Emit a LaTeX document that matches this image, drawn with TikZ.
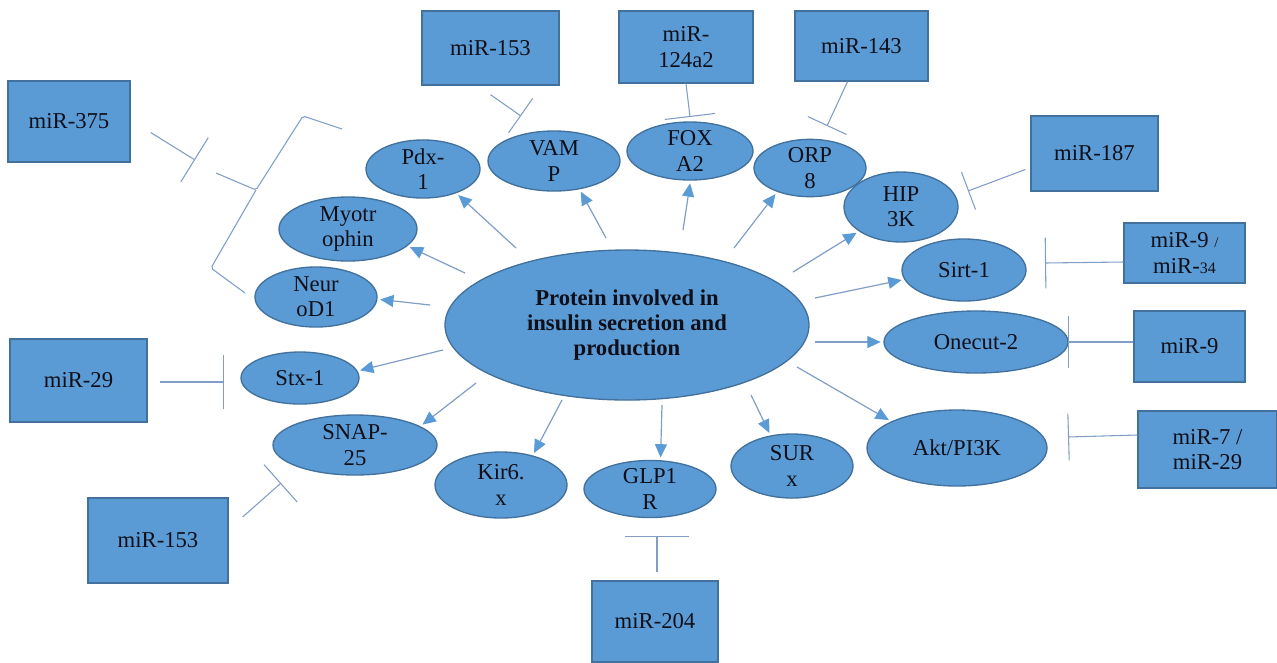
\documentclass[tikz,border=0pt]{standalone}
\usepackage{fontspec}
\setmainfont{Liberation Serif}
\usetikzlibrary{shapes.geometric,arrows.meta}
\definecolor{nfill}{RGB}{91,155,213}
\definecolor{ndraw}{RGB}{65,113,156}
\definecolor{linec}{RGB}{128,158,198}
\definecolor{tipc}{RGB}{91,155,213}
\definecolor{txt}{RGB}{15,15,25}
\begin{document}
\begin{tikzpicture}[x=0.75pt,y=-0.75pt,
 mbox/.style 2 args={rectangle, fill=nfill, draw=ndraw, line width=1pt, minimum width=#1*0.75pt, minimum height=#2*0.75pt, inner sep=0pt, align=center, text=txt, font=\fontsize{17}{19}\selectfont},
 pel/.style 2 args={ellipse, fill=nfill, draw=ndraw, line width=1pt, minimum width=#1*1.5pt, minimum height=#2*1.5pt, inner sep=0pt, align=center, text=txt, font=\fontsize{17}{19}\selectfont},
 arr/.style={draw=linec, line width=0.9pt, shorten >=2pt, -{Triangle[length=10pt,width=9pt,color=tipc]}},
 inh/.style={draw=linec, line width=0.8pt, -{Bar[width=#1]}},
 brace/.style={draw=linec, line width=0.8pt, rounded corners=1.5pt}]
\fill[white] (0,0) rectangle (1277,662);
\useasboundingbox (0,0) rectangle (1277,662);

% central protein node
\node[pel={182}{75}, font={\fontsize{17}{19}\selectfont\bfseries}] (main) at (627,325) {Protein involved in\\insulin secretion and\\production};

% target proteins
\node[pel={57}{28}] (pdx) at (423,169) {Pdx-\\1};
\node[pel={66}{30}] (vamp) at (554,161) {VAM\\P};
\node[pel={63}{29}] (foxa) at (690,151) {FOX\\A2};
\node[pel={56}{25}] (orp) at (810,168) {ORP\\8};
\node[pel={57}{35}] (hip) at (901,207) {HIP\\3K};
\node[pel={62}{31}] (sirt) at (964,270) {Sirt-1};
\node[pel={92}{31}] (onecut) at (976,342) {Onecut-2};
\node[pel={90}{38}] (akt) at (957,448) {Akt/PI3K};
\node[pel={61}{32}] (sur) at (792,466) {SUR\\x};
\node[pel={66}{28}] (glp) at (650,489) {GLP1\\R};
\node[pel={66}{33}] (kir) at (501,485) {Kir6.\\x};
\node[pel={82}{30}] (snap) at (355,445) {SNAP-\\25};
\node[pel={59}{26}] (stx) at (300,378) {Stx-1};
\node[pel={61}{30}] (neurod) at (316,297) {Neur\\oD1};
\node[pel={69}{32}] (myo) at (348,229) {Myotr\\ophin};

% miRNA boxes
\node[mbox={122}{81}] (mir375) at (69,121.5) {miR-375};
\node[mbox={137}{74}] (mir153t) at (490.5,48) {miR-153};
\node[mbox={134}{72}] (mir124) at (686,47) {miR-\\124a2};
\node[mbox={133}{70}] (mir143) at (861.5,46) {miR-143};
\node[mbox={127}{75}] (mir187) at (1094.5,153.5) {miR-187};
\node[mbox={121}{60}] (mir934) at (1184.5,253) {miR-9 {\fontsize{11}{19}\selectfont /}\\miR-{\fontsize{12}{19}\selectfont 34}};
\node[mbox={111}{71}] (mir9) at (1189.5,346.5) {miR-9};
\node[mbox={139}{77}] (mir729) at (1207.5,449.5) {miR-7 /\\miR-29};
\node[mbox={137}{83}] (mir29) at (78.5,380.5) {miR-29};
\node[mbox={140}{85}] (mir153b) at (158,540.5) {miR-153};
\node[mbox={126}{81}] (mir204) at (655,621.5) {miR-204};

% arrow start points
\coordinate (a1) at (516,248);
\coordinate (a2) at (606,238);
\coordinate (a3) at (683,230);
\coordinate (a4) at (734,248);
\coordinate (a5) at (793,272);
\coordinate (a6) at (815,298);
\coordinate (a7) at (815,342);
\coordinate (a8) at (797,367);
\coordinate (a9) at (751,395);
\coordinate (a10) at (662,405);
\coordinate (a11) at (562,400);
\coordinate (a12) at (476,383);
\coordinate (a13) at (443,350);
\coordinate (a14) at (430,305);
\coordinate (a15) at (465,273);

\draw[arr] (a1) -- (pdx.-36);
\draw[arr] (a2) -- (vamp.-48);
\draw[arr] (a3) -- (foxa.-89);
\draw[arr] (a4) -- (orp.-144);
\draw[arr] (a5) -- (hip.-150);
\draw[arr] (a6) -- (sirt.-171);
\draw[arr] (a7) -- (onecut.180);
\draw[arr] (a8) -- (akt.158);
\draw[arr] (a9) -- (sur.125);
\draw[arr] (a10) -- (glp.70);
\draw[arr] (a11) -- (kir.43);
\draw[arr] (a12) -- (snap.16);
\draw[arr] (a13) -- (stx.7);
\draw[arr] (a14) -- (neurod.-2);
\draw[arr] (a15) -- (myo.-16);

% brace grouping Pdx-1, Myotrophin, NeurOD1
\coordinate (braceTip) at (216,173);
\draw[brace] (342,129) -- (303,116) -- (256,190) -- (braceTip);
\draw[brace] (256,190) -- (211,268) -- (245,293);

% inhibition bars
\coordinate (bA) at (195,160);
\coordinate (bB) at (521,116);
\coordinate (bC) at (690,117);
\coordinate (bD) at (827,126);
\coordinate (bE) at (968,191);
\coordinate (bF) at (1045,263);
\coordinate (bG) at (1068,342);
\coordinate (bH) at (1068,437);
\coordinate (bI) at (224,382);
\coordinate (bJ) at (281,483);
\coordinate (bK) at (657,536);

\draw[inh=39pt] ([shift={(20,11)}]mir375.east) -- (bA);
\draw[inh=31.5pt] ([shift={(0,9)}]mir153t.south) -- (bB);
\draw[inh=38pt] ([shift={(0,0)}]mir124.south) -- (bC);
\draw[inh=32pt] ([shift={(-14,0)}]mir143.south) -- (bD);
\draw[inh=30pt] ([shift={(-5,16)}]mir187.west) -- (bE);
\draw[inh=38pt] ([shift={(0,9)}]mir934.west) -- (bF);
\draw[inh=39pt] ([shift={(0,-4.5)}]mir9.west) -- (bG);
\draw[inh=35pt] ([shift={(0,-14.5)}]mir729.west) -- (bH);
\draw[inh=40pt] ([shift={(12,1.5)}]mir29.east) -- (bI);
\draw[inh=37.5pt] ([shift={(14,-23.5)}]mir153b.east) -- (bJ);
\draw[inh=48pt] ([shift={(2,-8)}]mir204.north) -- (bK);
\end{tikzpicture}
\end{document}
